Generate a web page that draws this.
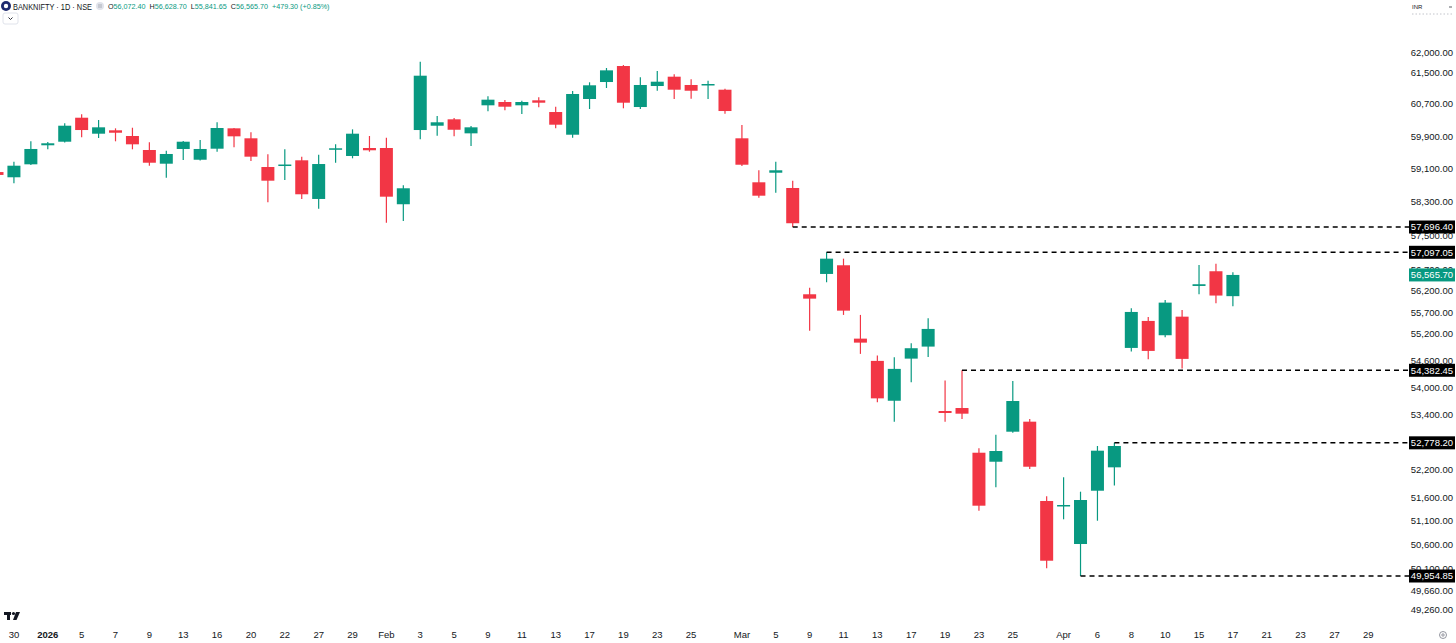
<!DOCTYPE html>
<html>
<head>
<meta charset="utf-8">
<script src="https://cdn.jsdelivr.net/npm/d3@7"></script>
<style>
  body { margin: 0; background: #fff; }
  text { font-family: "Liberation Sans", Arial, sans-serif; }
</style>
</head>
<body>
<div id="chart"></div>
<script>
var w = 1456,
  h = 643;

// trading days shown on the chart (Dec 29 is cut off at the left edge)
var dates = ["2025-12-29","2025-12-30","2025-12-31","2026-01-01","2026-01-02","2026-01-05","2026-01-06","2026-01-07","2026-01-08","2026-01-09",
  "2026-01-12","2026-01-13","2026-01-14","2026-01-16","2026-01-19","2026-01-20","2026-01-21","2026-01-22","2026-01-23","2026-01-27",
  "2026-01-28","2026-01-29","2026-01-30","2026-02-01","2026-02-02","2026-02-03","2026-02-04","2026-02-05","2026-02-06","2026-02-09",
  "2026-02-10","2026-02-11","2026-02-12","2026-02-13","2026-02-16","2026-02-17","2026-02-18","2026-02-19","2026-02-20","2026-02-23",
  "2026-02-24","2026-02-25","2026-02-26","2026-02-27","2026-03-02","2026-03-04","2026-03-05","2026-03-06","2026-03-09","2026-03-10",
  "2026-03-11","2026-03-12","2026-03-13","2026-03-16","2026-03-17","2026-03-18","2026-03-19","2026-03-20","2026-03-23","2026-03-24",
  "2026-03-25","2026-03-27","2026-03-30","2026-04-01","2026-04-02","2026-04-06","2026-04-07","2026-04-08","2026-04-09","2026-04-10",
  "2026-04-13","2026-04-15","2026-04-16","2026-04-17"];

var futureDates = ["2026-04-20","2026-04-21","2026-04-22","2026-04-23","2026-04-24","2026-04-27","2026-04-28","2026-04-29","2026-04-30"];

var opens = [59020,58893,59209,59676,59764,60359,59962,60046,59905,59560,
  59224,59585,59321,59592,60095,59848,59143,59192,59307,58368,
  59577,59413,59609,59609,58241,60053,60160,60319,59971,60669,
  60752,60669,60794,60501,59937,60827,61255,61661,60626,61154,
  61390,61180,61192,61061,59848,58771,59004,58633,56116,56589,
  56792,55098,54594,53703,54645,54917,53476,53542,52563,52368,
  53021,53241,51526,51435,50619,51745,52247,54887,55502,55175,
  55600,56309,56652,56072.40];

var highs = [59060,59272,59774,59757,60220,60444,60302,60095,60110,59750,
  59543,59781,59806,60245,60103,59996,59454,59577,59396,59445,
  59700,60070,59905,59863,58699,61771,60401,60352,60152,60895,
  60802,60785,60870,60634,61028,61248,61610,61686,61374,61534,
  61450,61324,61288,61086,60177,59063,59272,58810,56270,57097.05,
  56947,55640,54713,54677,54993,55564,54151,54382.45,52659,52956,
  54145,53300,51625,52033,51724,52709,52778.20,55793,55594,55985,
  55754,56799,56829,56628.70];

var lows = [58920,58747,59192,59577,59745,59873,59855,59774,59577,59175,
  58883,59314,59300,59518,59626,59290,58289,58827,58368,58135,
  59248,59356,59518,57800,57840,59823,59913,59897,59658,60519,
  60544,60451,60619,60095,59863,60576,61104,60594,60576,61035,
  60827,60835,60827,60459,59168,58399,58520,57696.40,55280,56395,
  55640,54752,53668,53241,54115,54684,53241,53300,51320,51818,
  53000,52211,50114,51138,49954.85,51108,51857,54804,54632,55130,
  54425,56116,55909,55841.65];

var closes = [58950,59175,59585,59725,60160,60053,60120,59986,59700,59248,
  59462,59764,59585,60103,59897,59396,58810,59204,58481,59216,
  59602,59962,59553,58423,58626,61415,60245,60060,60120,60810,
  60634,60752,60734,60185,60953,61172,61551,60734,61180,61263,
  61061,61035,61205,60526,59199,58447,59063,57786,56015,56947,
  55738,55007,53756,54414,54880,55319,53432,53417,51426,52600,
  53697,52260,50271,51441,51547,52607,52709,55708,54819,55923,
  54639,56349,56086.40,56565.70];

// horizontal rays: price level and the bar they start from
var levelPrices = [57696.40, 57097.05, 54382.45, 52778.20, 49954.85];
var levelDates = ["2026-03-06", "2026-03-10", "2026-03-20", "2026-04-07", "2026-04-02"];

var yTicks = [62000, 61500, 60700, 59900, 59100, 58300, 57500, 56700, 56200, 55700, 55200,
  54600, 54000, 53400, 52200, 51600, 51100, 50600, 50100, 49660, 49260];

var xTickDates = ["2025-12-30","2026-01-01","2026-01-05","2026-01-07","2026-01-09","2026-01-13","2026-01-16","2026-01-20","2026-01-22","2026-01-27",
  "2026-01-29","2026-02-01","2026-02-03","2026-02-05","2026-02-09","2026-02-11","2026-02-13","2026-02-17","2026-02-19","2026-02-23",
  "2026-02-25","2026-03-02","2026-03-05","2026-03-09","2026-03-11","2026-03-13","2026-03-17","2026-03-19","2026-03-23","2026-03-25",
  "2026-04-01","2026-04-06","2026-04-08","2026-04-10","2026-04-15","2026-04-17","2026-04-21","2026-04-23","2026-04-27","2026-04-29"];
var xTickLabels = ["30","2026","5","7","9","13","16","20","22","27",
  "29","Feb","3","5","9","11","13","17","19","23",
  "25","Mar","5","9","11","13","17","19","23","25",
  "Apr","6","8","10","15","17","21","23","27","29"];

var up = "#089981",
  down = "#F23645";

var candles = dates.map((d, i) => ({
  date: d, open: opens[i], high: highs[i], low: lows[i], close: closes[i]
}));

var allDates = dates.concat(futureDates);
var step = 16.93;

var x = d3
  .scalePoint()
  .domain(allDates)
  .range([-3, -3 + (allDates.length - 1) * step]);

var y = d3
  .scaleLog()
  .domain([49954.85, 57696.40])
  .range([576, 227]);

var fmt = d3.format(",.2f");

var svg = d3
  .select("#chart")
  .append("svg")
  .attr("width", w)
  .attr("height", h);

var plot = svg.append("g");

// wicks
plot
  .selectAll(".wick")
  .data(candles)
  .enter()
  .append("line")
  .attr("class", "wick")
  .attr("x1", (d) => x(d.date))
  .attr("x2", (d) => x(d.date))
  .attr("y1", (d) => y(d.high))
  .attr("y2", (d) => y(d.low))
  .attr("stroke", (d) => (d.close >= d.open ? up : down))
  .attr("stroke-width", 1.2);

// bodies
var bodyW = 13;
plot
  .selectAll(".body")
  .data(candles)
  .enter()
  .append("rect")
  .attr("class", "body")
  .attr("x", (d) => x(d.date) - bodyW / 2)
  .attr("width", bodyW)
  .attr("y", (d) => y(Math.max(d.open, d.close)))
  .attr("height", (d) => Math.max(1.5, Math.abs(y(d.open) - y(d.close))))
  .attr("fill", (d) => (d.close >= d.open ? up : down));

// right price axis labels
var axisX = 1453;
svg
  .append("g")
  .selectAll("text")
  .data(yTicks)
  .enter()
  .append("text")
  .attr("x", axisX)
  .attr("y", (d) => y(d))
  .attr("dy", "0.35em")
  .attr("text-anchor", "end")
  .attr("font-size", 9.5)
  .attr("fill", "#131722")
  .text((d) => fmt(d));

// dashed rays
var boxX = 1409,
  boxW = 46;
svg
  .append("g")
  .selectAll("line")
  .data(levelPrices)
  .enter()
  .append("line")
  .attr("x1", (d, i) => x(levelDates[i]))
  .attr("x2", boxX)
  .attr("y1", (d) => y(d))
  .attr("y2", (d) => y(d))
  .attr("stroke", "#000")
  .attr("stroke-width", 1.4)
  .attr("stroke-dasharray", "5,4");

var boxes = svg
  .append("g")
  .selectAll("g")
  .data(levelPrices)
  .enter()
  .append("g")
  .attr("transform", (d) => `translate(${boxX},${y(d)})`);
boxes
  .append("rect")
  .attr("y", -6.5)
  .attr("width", boxW)
  .attr("height", 13)
  .attr("fill", "#000");
boxes
  .append("text")
  .attr("x", boxW / 2)
  .attr("dy", "0.35em")
  .attr("text-anchor", "middle")
  .attr("font-size", 9.5)
  .attr("fill", "#fff")
  .text((d) => fmt(d));

// last price label
var last = candles[candles.length - 1];
var lastG = svg.append("g").attr("transform", `translate(${boxX},${y(last.close)})`);
lastG.append("rect").attr("y", -6.5).attr("width", boxW).attr("height", 13).attr("fill", up);
lastG
  .append("text")
  .attr("x", boxW / 2)
  .attr("dy", "0.35em")
  .attr("text-anchor", "middle")
  .attr("font-size", 9.5)
  .attr("fill", "#fff")
  .text(fmt(last.close));

// time axis labels
svg
  .append("g")
  .selectAll("text")
  .data(xTickDates)
  .enter()
  .append("text")
  .attr("x", (d) => x(d))
  .attr("y", 637.5)
  .attr("text-anchor", "middle")
  .attr("font-size", 9.5)
  .attr("font-weight", (d, i) => (xTickLabels[i] === "2026" ? "bold" : "normal"))
  .attr("fill", "#131722")
  .text((d, i) => xTickLabels[i]);

// legend / header
var head = svg.append("g");
head.append("circle").attr("cx", 6).attr("cy", 6).attr("r", 5).attr("fill", "#1e2a6e");
head.append("circle").attr("cx", 6).attr("cy", 6).attr("r", 2.2).attr("fill", "#fff");
head
  .append("text")
  .attr("x", 13)
  .attr("y", 9.5)
  .attr("font-size", 9)
  .attr("fill", "#131722")
  .attr("textLength", 79)
  .attr("lengthAdjust", "spacingAndGlyphs")
  .text("BANKNIFTY · 1D · NSE");
head.append("circle").attr("cx", 100).attr("cy", 6).attr("r", 4).attr("fill", "#e0e3eb");
head.append("line").attr("x1", 98).attr("x2", 102).attr("y1", 5).attr("y2", 5).attr("stroke", "#9598a1").attr("stroke-width", 0.7);
head.append("line").attr("x1", 98).attr("x2", 102).attr("y1", 7).attr("y2", 7).attr("stroke", "#9598a1").attr("stroke-width", 0.7);

var chg = last.close - closes[closes.length - 2];
var ohlc = head
  .append("text")
  .attr("x", 108)
  .attr("y", 9)
  .attr("font-size", 7.2);
[["O", fmt(last.open)], ["H", fmt(last.high)], ["L", fmt(last.low)], ["C", fmt(last.close)]].forEach((p, i) => {
  ohlc.append("tspan").attr("fill", "#131722").attr("dx", i ? 4 : 0).text(p[0]);
  ohlc.append("tspan").attr("fill", up).text(p[1]);
});
ohlc
  .append("tspan")
  .attr("fill", up)
  .attr("dx", 4)
  .text(`+${fmt(chg)} (+${((chg / closes[closes.length - 2]) * 100).toFixed(2)}%)`);

head
  .append("rect")
  .attr("x", 3)
  .attr("y", 13)
  .attr("width", 15)
  .attr("height", 11)
  .attr("rx", 2)
  .attr("fill", "#fff")
  .attr("stroke", "#e0e3eb");
head
  .append("path")
  .attr("d", "M8.5,17.5L10.5,19.5L12.5,17.5")
  .attr("fill", "none")
  .attr("stroke", "#131722")
  .attr("stroke-width", 0.9);

// currency tag top right
svg.append("text").attr("x", 1412).attr("y", 9).attr("font-size", 6).attr("fill", "#131722").text("INR");
svg.append("line").attr("x1", 1449).attr("x2", 1452).attr("y1", 7).attr("y2", 7).attr("stroke", "#131722").attr("stroke-width", 0.7);
svg
  .append("line")
  .attr("x1", 1412)
  .attr("x2", 1452)
  .attr("y1", 14)
  .attr("y2", 14)
  .attr("stroke", "#b2b5be")
  .attr("stroke-width", 0.8)
  .attr("stroke-dasharray", "1.5,2");

// logo bottom left
var logo = svg.append("g").attr("fill", "#131722");
logo.append("rect").attr("x", 4).attr("y", 612).attr("width", 7).attr("height", 3);
logo.append("rect").attr("x", 7).attr("y", 612).attr("width", 3).attr("height", 8);
logo.append("circle").attr("cx", 13.5).attr("cy", 613.5).attr("r", 1.6);
logo.append("path").attr("d", "M16,612L20,612L16.5,620L13,620Z");

// settings icon bottom right
svg.append("circle").attr("cx", 1443).attr("cy", 635).attr("r", 3.5).attr("fill", "none").attr("stroke", "#787b86").attr("stroke-width", 0.8);
svg.append("circle").attr("cx", 1443).attr("cy", 635).attr("r", 1.2).attr("fill", "none").attr("stroke", "#787b86").attr("stroke-width", 0.8);
</script>
</body>
</html>
